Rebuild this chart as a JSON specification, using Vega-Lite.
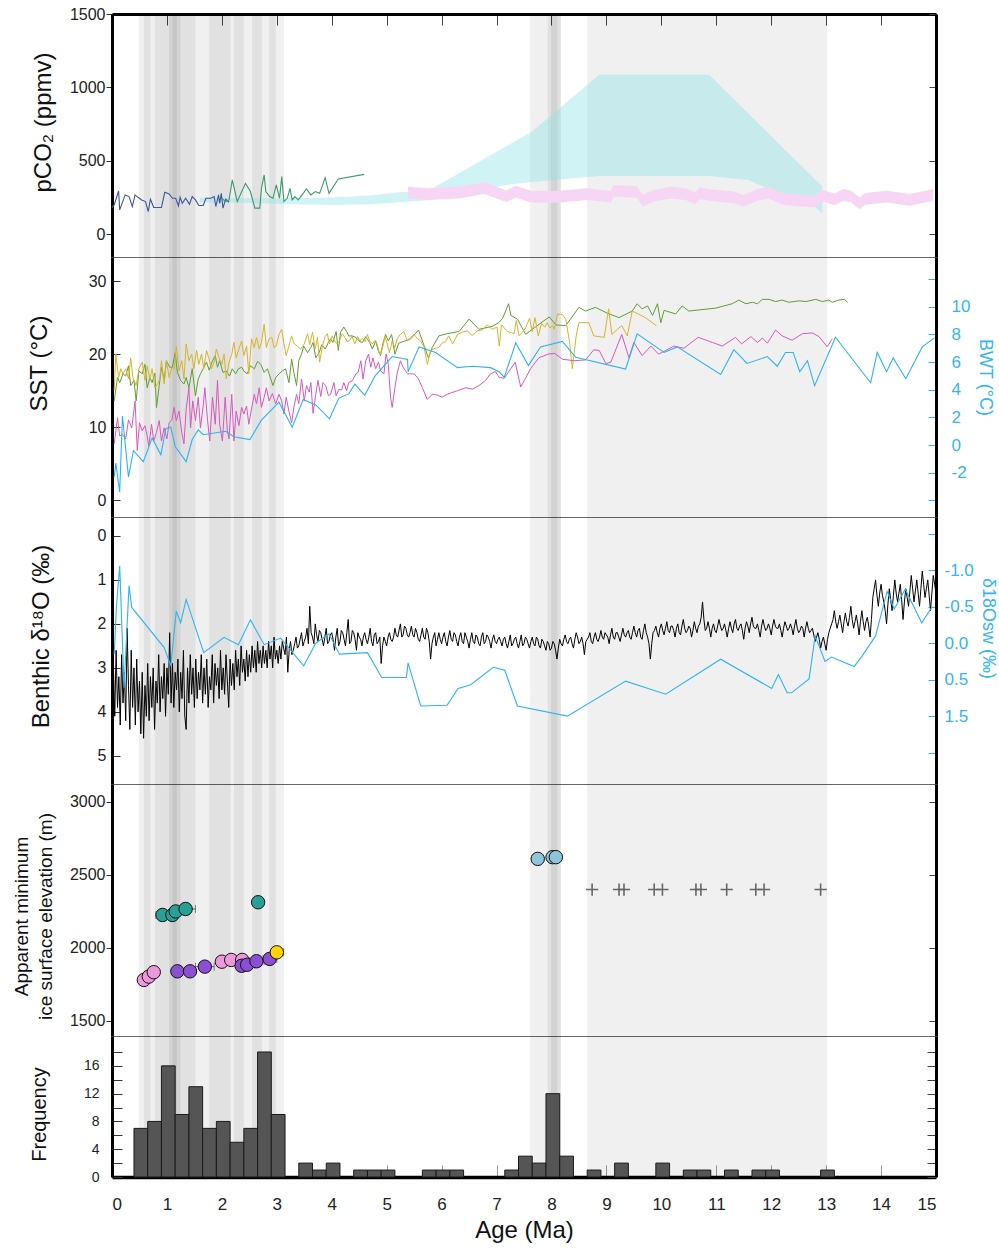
{
"$schema": "https://vega.github.io/schema/vega-lite/v6.json",
"padding": {"left": 11, "top": 5, "right": 5, "bottom": 0},
"background": "white",
"spacing": 0,
"bounds": "flush",
"resolve": {"scale": {"color": "independent", "fill": "independent"}},
"config": {
  "font": "Liberation Sans",
  "view": {"stroke": "#666", "strokeWidth": 1},
  "axis": {"labelFont": "Liberation Sans", "labelFontSize": 16, "labelColor": "#222", "titleFont": "Liberation Sans", "titleFontWeight": "normal", "titleColor": "#111", "grid": false, "domainColor": "#000", "domainWidth": 3, "tickColor": "#333", "tickWidth": 1}
},
"datasets": {
  "bands": [
    {"a":0.49,"e":3.13},{"a":0.58,"e":0.70},{"a":0.78,"e":1.52},{"a":1.04,"e":1.25},{"a":1.10,"e":1.18},
    {"a":1.77,"e":1.91},{"a":1.91,"e":2.16},{"a":2.22,"e":2.40},{"a":2.55,"e":2.73},{"a":2.86,"e":2.98},
    {"a":7.61,"e":8.17},{"a":7.93,"e":8.17},{"a":7.99,"e":8.11},{"a":8.65,"e":13.02}
  ],
  "co2": [
    {"a":0.0,"v":180,"s":"b"},{"a":0.04,"v":199,"s":"b"},{"a":0.12,"v":294,"s":"b"},{"a":0.14,"v":165,"s":"b"},{"a":0.24,"v":267,"s":"b"},{"a":0.31,"v":256,"s":"b"},{"a":0.37,"v":188,"s":"b"},{"a":0.42,"v":267,"s":"b"},{"a":0.48,"v":249,"s":"b"},{"a":0.54,"v":233,"s":"b"},{"a":0.61,"v":222,"s":"b"},{"a":0.66,"v":154,"s":"b"},{"a":0.70,"v":238,"s":"b"},{"a":0.76,"v":181,"s":"b"},{"a":0.90,"v":181,"s":"b"},{"a":0.96,"v":285,"s":"b"},{"a":1.04,"v":274,"s":"b"},{"a":1.10,"v":244,"s":"b"},{"a":1.16,"v":244,"s":"b"},{"a":1.21,"v":192,"s":"b"},{"a":1.24,"v":251,"s":"b"},{"a":1.28,"v":210,"s":"b"},{"a":1.34,"v":244,"s":"b"},{"a":1.41,"v":204,"s":"b"},{"a":1.46,"v":256,"s":"b"},{"a":1.52,"v":233,"s":"b"},{"a":1.58,"v":195,"s":"b"},{"a":1.66,"v":195,"s":"b"},{"a":1.71,"v":244,"s":"b"},{"a":1.80,"v":244,"s":"b"},{"a":1.86,"v":256,"s":"b"},{"a":1.89,"v":188,"s":"b"},{"a":1.94,"v":267,"s":"b"},{"a":1.96,"v":210,"s":"b"},{"a":1.99,"v":278,"s":"b"},{"a":2.02,"v":177,"s":"b"},{"a":2.07,"v":238,"s":"b"},{"a":2.13,"v":217,"s":"b"},
    {"a":2.00,"v":244,"s":"g"},{"a":2.07,"v":222,"s":"g"},{"a":2.13,"v":233,"s":"g"},{"a":2.19,"v":369,"s":"g"},{"a":2.28,"v":222,"s":"g"},{"a":2.43,"v":346,"s":"g"},{"a":2.52,"v":290,"s":"g"},{"a":2.60,"v":177,"s":"g"},{"a":2.69,"v":177,"s":"g"},{"a":2.72,"v":312,"s":"g"},{"a":2.77,"v":403,"s":"g"},{"a":2.80,"v":290,"s":"g"},{"a":2.87,"v":256,"s":"g"},{"a":2.93,"v":244,"s":"g"},{"a":2.99,"v":335,"s":"g"},{"a":3.05,"v":244,"s":"g"},{"a":3.09,"v":392,"s":"g"},{"a":3.13,"v":222,"s":"g"},{"a":3.19,"v":244,"s":"g"},{"a":3.24,"v":312,"s":"g"},{"a":3.28,"v":233,"s":"g"},{"a":3.33,"v":256,"s":"g"},{"a":3.39,"v":233,"s":"g"},{"a":3.46,"v":267,"s":"g"},{"a":3.54,"v":308,"s":"g"},{"a":3.62,"v":267,"s":"g"},{"a":3.70,"v":290,"s":"g"},{"a":3.78,"v":278,"s":"g"},{"a":3.88,"v":385,"s":"g"},{"a":3.95,"v":278,"s":"g"},{"a":4.12,"v":376,"s":"g"},{"a":4.59,"v":407,"s":"g"}
  ],
  "cyanA": [
    {"a":1.60,"lo":217,"hi":249},{"a":2.50,"lo":212,"hi":245},{"a":3.10,"lo":206,"hi":244},{"a":4.00,"lo":199,"hi":249},{"a":4.70,"lo":204,"hi":263},{"a":5.22,"lo":217,"hi":285},{"a":5.75,"lo":230,"hi":294},{"a":7.18,"lo":335,"hi":599},{"a":7.64,"lo":355,"hi":697},{"a":8.87,"lo":396,"hi":1086},{"a":10.87,"lo":396,"hi":1086},{"a":11.59,"lo":369,"hi":820},{"a":12.24,"lo":256,"hi":579},{"a":12.79,"lo":188,"hi":376},{"a":12.93,"lo":143,"hi":324}
  ],
  "magA": [
    {"a":5.39,"lo":243,"hi":323},{"a":5.75,"lo":232,"hi":312},{"a":6.34,"lo":245,"hi":325},{"a":6.78,"lo":274,"hi":354},{"a":7.18,"lo":218,"hi":298},{"a":7.35,"lo":250,"hi":330},{"a":7.64,"lo":213,"hi":293},{"a":8.16,"lo":215,"hi":295},{"a":8.65,"lo":232,"hi":312},{"a":9.08,"lo":213,"hi":293},{"a":9.13,"lo":254,"hi":334},{"a":9.56,"lo":247,"hi":327},{"a":9.66,"lo":189,"hi":269},{"a":9.86,"lo":223,"hi":303},{"a":10.18,"lo":243,"hi":323},{"a":10.44,"lo":232,"hi":312},{"a":10.61,"lo":204,"hi":284},{"a":10.70,"lo":238,"hi":318},{"a":10.97,"lo":223,"hi":303},{"a":11.33,"lo":211,"hi":291},{"a":11.49,"lo":186,"hi":266},{"a":11.75,"lo":227,"hi":307},{"a":11.95,"lo":243,"hi":323},{"a":12.21,"lo":200,"hi":280},{"a":12.53,"lo":189,"hi":269},{"a":12.79,"lo":182,"hi":262},{"a":12.93,"lo":223,"hi":303},{"a":13.15,"lo":197,"hi":277},{"a":13.32,"lo":227,"hi":307},{"a":13.45,"lo":215,"hi":295},{"a":13.61,"lo":170,"hi":250},{"a":13.71,"lo":200,"hi":280},{"a":14.10,"lo":215,"hi":295},{"a":14.52,"lo":193,"hi":273},{"a":14.95,"lo":227,"hi":307}
  ],
  "sst": [
    {"a":0.04,"t":13.6,"s":"g"},{"a":0.10,"t":16.8,"s":"g"},{"a":0.14,"t":16.1,"s":"g"},{"a":0.20,"t":17.3,"s":"g"},{"a":0.25,"t":17.0,"s":"g"},{"a":0.30,"t":18.4,"s":"g"},{"a":0.34,"t":15.7,"s":"g"},{"a":0.40,"t":16.4,"s":"g"},{"a":0.44,"t":13.6,"s":"g"},{"a":0.49,"t":17.7,"s":"g"},{"a":0.55,"t":17.3,"s":"g"},{"a":0.60,"t":18.6,"s":"g"},{"a":0.64,"t":15.4,"s":"g"},{"a":0.69,"t":16.8,"s":"g"},{"a":0.73,"t":16.1,"s":"g"},{"a":0.78,"t":17.4,"s":"g"},{"a":0.81,"t":12.7,"s":"g"},{"a":0.86,"t":15.7,"s":"g"},{"a":0.90,"t":18.2,"s":"g"},{"a":0.95,"t":16.4,"s":"g"},{"a":0.99,"t":19.1,"s":"g"},{"a":1.05,"t":18.2,"s":"g"},{"a":1.10,"t":18.2,"s":"g"},{"a":1.15,"t":20.2,"s":"g"},{"a":1.19,"t":17.5,"s":"g"},{"a":1.25,"t":16.4,"s":"g"},{"a":1.31,"t":15.9,"s":"g"},{"a":1.35,"t":16.8,"s":"g"},{"a":1.40,"t":15.4,"s":"g"},{"a":1.46,"t":18.0,"s":"g"},{"a":1.52,"t":14.3,"s":"g"},{"a":1.57,"t":16.6,"s":"g"},{"a":1.61,"t":17.3,"s":"g"},{"a":1.66,"t":18.0,"s":"g"},{"a":1.72,"t":18.9,"s":"g"},{"a":1.77,"t":17.8,"s":"g"},{"a":1.83,"t":19.1,"s":"g"},{"a":1.88,"t":19.8,"s":"g"},{"a":1.92,"t":18.2,"s":"g"},{"a":1.96,"t":19.1,"s":"g"},{"a":2.02,"t":17.5,"s":"g"},{"a":2.08,"t":17.7,"s":"g"},{"a":2.14,"t":17.0,"s":"g"},{"a":2.19,"t":18.0,"s":"g"},{"a":2.25,"t":17.3,"s":"g"},{"a":2.30,"t":18.0,"s":"g"},{"a":2.36,"t":18.2,"s":"g"},{"a":2.40,"t":17.7,"s":"g"},{"a":2.46,"t":17.3,"s":"g"},{"a":2.52,"t":18.4,"s":"g"},{"a":2.59,"t":18.0,"s":"g"},{"a":2.65,"t":19.0,"s":"g"},{"a":2.71,"t":18.6,"s":"g"},{"a":2.77,"t":17.5,"s":"g"},{"a":2.83,"t":18.0,"s":"g"},{"a":2.89,"t":16.6,"s":"g"},{"a":2.93,"t":15.7,"s":"g"},{"a":2.98,"t":16.8,"s":"g"},{"a":3.04,"t":17.3,"s":"g"},{"a":3.10,"t":17.7,"s":"g"},{"a":3.16,"t":18.0,"s":"g"},{"a":3.22,"t":16.1,"s":"g"},{"a":3.27,"t":19.3,"s":"g"},{"a":3.31,"t":17.5,"s":"g"},{"a":3.36,"t":15.7,"s":"g"},{"a":3.40,"t":19.1,"s":"g"},{"a":3.45,"t":20.0,"s":"g"},{"a":3.49,"t":21.1,"s":"g"},{"a":3.56,"t":20.2,"s":"g"},{"a":3.62,"t":20.9,"s":"g"},{"a":3.66,"t":21.6,"s":"g"},{"a":3.71,"t":19.5,"s":"g"},{"a":3.77,"t":20.2,"s":"g"},{"a":3.82,"t":21.3,"s":"g"},{"a":3.88,"t":20.7,"s":"g"},{"a":3.94,"t":21.6,"s":"g"},{"a":3.98,"t":22.1,"s":"g"},{"a":4.02,"t":21.6,"s":"g"},{"a":4.08,"t":23.1,"s":"g"},{"a":4.12,"t":20.5,"s":"g"},{"a":4.16,"t":23.0,"s":"g"},{"a":4.22,"t":23.7,"s":"g"},{"a":4.27,"t":23.1,"s":"g"},{"a":4.31,"t":22.5,"s":"g"},{"a":4.37,"t":22.5,"s":"g"},{"a":4.44,"t":22.3,"s":"g"},{"a":4.51,"t":21.7,"s":"g"},{"a":4.56,"t":21.6,"s":"g"},{"a":4.62,"t":22.4,"s":"g"},{"a":4.69,"t":21.6,"s":"g"},{"a":4.74,"t":20.7,"s":"g"},{"a":4.80,"t":21.8,"s":"g"},{"a":4.85,"t":20.4,"s":"g"},{"a":4.89,"t":19.8,"s":"g"},{"a":4.93,"t":21.4,"s":"g"},{"a":4.98,"t":22.7,"s":"g"},{"a":5.03,"t":21.8,"s":"g"},{"a":5.09,"t":22.7,"s":"g"},{"a":5.15,"t":20.0,"s":"g"},{"a":5.22,"t":21.5,"s":"g"},{"a":5.33,"t":21.8,"s":"g"},{"a":5.44,"t":22.1,"s":"g"},{"a":5.58,"t":23.3,"s":"g"},{"a":5.66,"t":21.6,"s":"g"},{"a":5.76,"t":19.5,"s":"g"},{"a":5.83,"t":20.9,"s":"g"},{"a":5.95,"t":22.5,"s":"g"},{"a":6.10,"t":22.8,"s":"g"},{"a":6.32,"t":23.1,"s":"g"},{"a":6.50,"t":24.8,"s":"g"},{"a":6.68,"t":23.4,"s":"g"},{"a":6.92,"t":23.8,"s":"g"},{"a":7.04,"t":24.3,"s":"g"},{"a":7.11,"t":24.9,"s":"g"},{"a":7.22,"t":26.9,"s":"g"},{"a":7.26,"t":25.3,"s":"g"},{"a":7.38,"t":24.8,"s":"g"},{"a":7.53,"t":22.7,"s":"g"},{"a":7.65,"t":23.4,"s":"g"},{"a":7.96,"t":25.1,"s":"g"},{"a":8.08,"t":24.0,"s":"g"},{"a":8.26,"t":23.9,"s":"g"},{"a":8.50,"t":26.4,"s":"g"},{"a":8.62,"t":25.9,"s":"g"},{"a":8.80,"t":26.4,"s":"g"},{"a":9.02,"t":25.6,"s":"g"},{"a":9.23,"t":25.0,"s":"g"},{"a":9.47,"t":25.9,"s":"g"},{"a":9.56,"t":26.9,"s":"g"},{"a":9.65,"t":26.2,"s":"g"},{"a":9.75,"t":26.6,"s":"g"},{"a":9.84,"t":25.3,"s":"g"},{"a":9.93,"t":26.9,"s":"g"},{"a":9.99,"t":24.3,"s":"g"},{"a":10.05,"t":26.0,"s":"g"},{"a":10.26,"t":25.5,"s":"g"},{"a":10.38,"t":26.6,"s":"g"},{"a":10.50,"t":25.9,"s":"g"},{"a":10.99,"t":26.3,"s":"g"},{"a":11.29,"t":26.9,"s":"g"},{"a":11.41,"t":27.4,"s":"g"},{"a":11.54,"t":26.9,"s":"g"},{"a":11.66,"t":27.1,"s":"g"},{"a":11.75,"t":26.9,"s":"g"},{"a":11.84,"t":27.5,"s":"g"},{"a":11.96,"t":27.5,"s":"g"},{"a":12.08,"t":27.2,"s":"g"},{"a":12.20,"t":27.4,"s":"g"},{"a":12.32,"t":27.1,"s":"g"},{"a":12.51,"t":27.3,"s":"g"},{"a":12.63,"t":27.2,"s":"g"},{"a":12.81,"t":27.5,"s":"g"},{"a":12.93,"t":27.2,"s":"g"},{"a":13.05,"t":27.4,"s":"g"},{"a":13.11,"t":27.1,"s":"g"},{"a":13.23,"t":27.4,"s":"g"},{"a":13.33,"t":27.5,"s":"g"},{"a":13.39,"t":27.1,"s":"g"},
    {"a":0.04,"t":15.0,"s":"y"},{"a":0.07,"t":20.0,"s":"y"},{"a":0.12,"t":16.8,"s":"y"},{"a":0.16,"t":18.0,"s":"y"},{"a":0.20,"t":17.3,"s":"y"},{"a":0.25,"t":18.0,"s":"y"},{"a":0.30,"t":16.6,"s":"y"},{"a":0.34,"t":19.5,"s":"y"},{"a":0.38,"t":16.8,"s":"y"},{"a":0.44,"t":15.7,"s":"y"},{"a":0.49,"t":18.0,"s":"y"},{"a":0.55,"t":18.9,"s":"y"},{"a":0.60,"t":16.4,"s":"y"},{"a":0.64,"t":18.4,"s":"y"},{"a":0.69,"t":16.6,"s":"y"},{"a":0.73,"t":18.0,"s":"y"},{"a":0.78,"t":15.4,"s":"y"},{"a":0.83,"t":15.9,"s":"y"},{"a":0.87,"t":16.6,"s":"y"},{"a":0.90,"t":19.1,"s":"y"},{"a":0.95,"t":15.9,"s":"y"},{"a":0.99,"t":19.1,"s":"y"},{"a":1.04,"t":16.8,"s":"y"},{"a":1.09,"t":18.2,"s":"y"},{"a":1.13,"t":18.0,"s":"y"},{"a":1.17,"t":21.1,"s":"y"},{"a":1.22,"t":17.7,"s":"y"},{"a":1.27,"t":19.1,"s":"y"},{"a":1.31,"t":16.6,"s":"y"},{"a":1.35,"t":21.4,"s":"y"},{"a":1.40,"t":19.1,"s":"y"},{"a":1.45,"t":20.0,"s":"y"},{"a":1.49,"t":18.0,"s":"y"},{"a":1.54,"t":20.5,"s":"y"},{"a":1.58,"t":18.6,"s":"y"},{"a":1.63,"t":20.0,"s":"y"},{"a":1.67,"t":18.0,"s":"y"},{"a":1.72,"t":20.5,"s":"y"},{"a":1.77,"t":19.3,"s":"y"},{"a":1.81,"t":18.0,"s":"y"},{"a":1.86,"t":18.9,"s":"y"},{"a":1.90,"t":20.7,"s":"y"},{"a":1.95,"t":19.5,"s":"y"},{"a":2.00,"t":18.6,"s":"y"},{"a":2.04,"t":20.0,"s":"y"},{"a":2.08,"t":16.6,"s":"y"},{"a":2.13,"t":18.9,"s":"y"},{"a":2.18,"t":20.0,"s":"y"},{"a":2.22,"t":21.6,"s":"y"},{"a":2.26,"t":19.5,"s":"y"},{"a":2.31,"t":20.7,"s":"y"},{"a":2.36,"t":21.8,"s":"y"},{"a":2.40,"t":19.8,"s":"y"},{"a":2.45,"t":21.1,"s":"y"},{"a":2.49,"t":17.3,"s":"y"},{"a":2.54,"t":22.1,"s":"y"},{"a":2.59,"t":20.9,"s":"y"},{"a":2.63,"t":22.3,"s":"y"},{"a":2.68,"t":20.7,"s":"y"},{"a":2.72,"t":21.6,"s":"y"},{"a":2.77,"t":24.1,"s":"y"},{"a":2.81,"t":20.9,"s":"y"},{"a":2.86,"t":22.1,"s":"y"},{"a":2.91,"t":22.3,"s":"y"},{"a":2.95,"t":20.9,"s":"y"},{"a":2.99,"t":21.1,"s":"y"},{"a":3.04,"t":22.7,"s":"y"},{"a":3.09,"t":23.4,"s":"y"},{"a":3.13,"t":21.4,"s":"y"},{"a":3.17,"t":19.8,"s":"y"},{"a":3.22,"t":21.1,"s":"y"},{"a":3.27,"t":22.5,"s":"y"},{"a":3.31,"t":21.5,"s":"y"},{"a":3.37,"t":21.1,"s":"y"},{"a":3.43,"t":20.7,"s":"y"},{"a":3.50,"t":21.4,"s":"y"},{"a":3.56,"t":22.8,"s":"y"},{"a":3.60,"t":21.3,"s":"y"},{"a":3.65,"t":23.0,"s":"y"},{"a":3.70,"t":20.7,"s":"y"},{"a":3.74,"t":22.3,"s":"y"},{"a":3.78,"t":18.9,"s":"y"},{"a":3.83,"t":21.1,"s":"y"},{"a":3.88,"t":22.4,"s":"y"},{"a":3.92,"t":22.8,"s":"y"},{"a":3.96,"t":21.4,"s":"y"},{"a":4.01,"t":22.5,"s":"y"},{"a":4.06,"t":21.7,"s":"y"},{"a":4.10,"t":21.4,"s":"y"},{"a":4.14,"t":21.8,"s":"y"},{"a":4.19,"t":22.8,"s":"y"},{"a":4.24,"t":22.3,"s":"y"},{"a":4.28,"t":21.7,"s":"y"},{"a":4.33,"t":21.9,"s":"y"},{"a":4.37,"t":22.4,"s":"y"},{"a":4.42,"t":21.4,"s":"y"},{"a":4.47,"t":22.4,"s":"y"},{"a":4.51,"t":21.8,"s":"y"},{"a":4.56,"t":22.2,"s":"y"},{"a":4.61,"t":21.7,"s":"y"},{"a":4.65,"t":22.7,"s":"y"},{"a":4.69,"t":21.8,"s":"y"},{"a":4.74,"t":21.4,"s":"y"},{"a":4.79,"t":21.9,"s":"y"},{"a":4.83,"t":21.3,"s":"y"},{"a":4.87,"t":20.0,"s":"y"},{"a":4.92,"t":20.7,"s":"y"},{"a":4.97,"t":22.4,"s":"y"},{"a":5.01,"t":21.4,"s":"y"},{"a":5.05,"t":20.2,"s":"y"},{"a":5.10,"t":21.8,"s":"y"},{"a":5.15,"t":20.9,"s":"y"},{"a":5.19,"t":22.1,"s":"y"},{"a":5.25,"t":22.7,"s":"y"},{"a":5.31,"t":23.1,"s":"y"},{"a":5.38,"t":21.8,"s":"y"},{"a":5.44,"t":22.3,"s":"y"},{"a":5.50,"t":22.7,"s":"y"},{"a":5.56,"t":22.1,"s":"y"},{"a":5.62,"t":21.8,"s":"y"},{"a":5.68,"t":21.0,"s":"y"},{"a":5.74,"t":18.6,"s":"y"},{"a":5.80,"t":20.5,"s":"y"},{"a":5.88,"t":20.8,"s":"y"},{"a":5.95,"t":20.9,"s":"y"},{"a":6.01,"t":21.5,"s":"y"},{"a":6.07,"t":21.7,"s":"y"},{"a":6.13,"t":22.5,"s":"y"},{"a":6.20,"t":21.4,"s":"y"},{"a":6.29,"t":22.7,"s":"y"},{"a":6.38,"t":23.0,"s":"y"},{"a":6.47,"t":23.2,"s":"y"},{"a":6.56,"t":22.5,"s":"y"},{"a":6.65,"t":23.2,"s":"y"},{"a":6.74,"t":23.3,"s":"y"},{"a":6.83,"t":24.0,"s":"y"},{"a":6.92,"t":23.4,"s":"y"},{"a":7.01,"t":23.7,"s":"y"},{"a":7.05,"t":21.1,"s":"y"},{"a":7.09,"t":24.0,"s":"y"},{"a":7.20,"t":23.1,"s":"y"},{"a":7.32,"t":22.8,"s":"y"},{"a":7.36,"t":24.6,"s":"y"},{"a":7.41,"t":22.5,"s":"y"},{"a":7.47,"t":23.0,"s":"y"},{"a":7.53,"t":23.6,"s":"y"},{"a":7.60,"t":24.9,"s":"y"},{"a":7.65,"t":23.1,"s":"y"},{"a":7.70,"t":25.0,"s":"y"},{"a":7.76,"t":22.5,"s":"y"},{"a":7.82,"t":24.2,"s":"y"},{"a":7.88,"t":23.7,"s":"y"},{"a":7.92,"t":24.3,"s":"y"},{"a":7.97,"t":23.6,"s":"y"},{"a":8.02,"t":23.9,"s":"y"},{"a":8.05,"t":23.4,"s":"y"},{"a":8.11,"t":25.5,"s":"y"},{"a":8.20,"t":25.4,"s":"y"},{"a":8.26,"t":24.8,"s":"y"},{"a":8.33,"t":21.6,"s":"y"},{"a":8.38,"t":18.0,"s":"y"},{"a":8.45,"t":22.5,"s":"y"},{"a":8.50,"t":24.3,"s":"y"},{"a":8.68,"t":24.3,"s":"y"},{"a":8.77,"t":22.5,"s":"y"},{"a":8.96,"t":22.3,"s":"y"},{"a":9.04,"t":26.2,"s":"y"},{"a":9.10,"t":22.7,"s":"y"},{"a":9.20,"t":23.4,"s":"y"},{"a":9.28,"t":23.9,"s":"y"},{"a":9.38,"t":22.5,"s":"y"},{"a":9.47,"t":25.9,"s":"y"},{"a":9.71,"t":25.0,"s":"y"},{"a":9.91,"t":23.9,"s":"y"},
    {"a":0.04,"t":7.7,"s":"m"},{"a":0.10,"t":11.3,"s":"m"},{"a":0.14,"t":8.8,"s":"m"},{"a":0.19,"t":9.0,"s":"m"},{"a":0.25,"t":8.4,"s":"m"},{"a":0.30,"t":11.0,"s":"m"},{"a":0.36,"t":9.9,"s":"m"},{"a":0.42,"t":13.6,"s":"m"},{"a":0.46,"t":6.8,"s":"m"},{"a":0.50,"t":10.6,"s":"m"},{"a":0.55,"t":9.5,"s":"m"},{"a":0.60,"t":10.2,"s":"m"},{"a":0.64,"t":8.8,"s":"m"},{"a":0.67,"t":7.4,"s":"m"},{"a":0.72,"t":10.4,"s":"m"},{"a":0.76,"t":8.1,"s":"m"},{"a":0.81,"t":9.3,"s":"m"},{"a":0.86,"t":10.9,"s":"m"},{"a":0.90,"t":8.1,"s":"m"},{"a":0.95,"t":9.9,"s":"m"},{"a":1.00,"t":8.4,"s":"m"},{"a":1.04,"t":10.6,"s":"m"},{"a":1.09,"t":11.0,"s":"m"},{"a":1.13,"t":12.7,"s":"m"},{"a":1.17,"t":10.9,"s":"m"},{"a":1.22,"t":12.2,"s":"m"},{"a":1.27,"t":9.3,"s":"m"},{"a":1.31,"t":7.7,"s":"m"},{"a":1.35,"t":12.5,"s":"m"},{"a":1.40,"t":15.4,"s":"m"},{"a":1.43,"t":9.9,"s":"m"},{"a":1.47,"t":13.6,"s":"m"},{"a":1.52,"t":10.9,"s":"m"},{"a":1.57,"t":14.1,"s":"m"},{"a":1.61,"t":9.9,"s":"m"},{"a":1.66,"t":12.9,"s":"m"},{"a":1.69,"t":15.4,"s":"m"},{"a":1.74,"t":10.9,"s":"m"},{"a":1.78,"t":8.1,"s":"m"},{"a":1.83,"t":14.1,"s":"m"},{"a":1.88,"t":10.4,"s":"m"},{"a":1.92,"t":16.4,"s":"m"},{"a":1.96,"t":10.4,"s":"m"},{"a":2.01,"t":8.1,"s":"m"},{"a":2.06,"t":14.1,"s":"m"},{"a":2.10,"t":9.5,"s":"m"},{"a":2.13,"t":8.4,"s":"m"},{"a":2.18,"t":14.5,"s":"m"},{"a":2.22,"t":8.1,"s":"m"},{"a":2.26,"t":12.2,"s":"m"},{"a":2.31,"t":10.2,"s":"m"},{"a":2.36,"t":12.7,"s":"m"},{"a":2.40,"t":11.8,"s":"m"},{"a":2.45,"t":12.9,"s":"m"},{"a":2.49,"t":10.4,"s":"m"},{"a":2.54,"t":12.5,"s":"m"},{"a":2.59,"t":14.5,"s":"m"},{"a":2.63,"t":13.2,"s":"m"},{"a":2.68,"t":15.4,"s":"m"},{"a":2.72,"t":12.7,"s":"m"},{"a":2.77,"t":14.1,"s":"m"},{"a":2.81,"t":15.4,"s":"m"},{"a":2.86,"t":13.6,"s":"m"},{"a":2.92,"t":14.6,"s":"m"},{"a":2.98,"t":13.2,"s":"m"},{"a":3.04,"t":14.5,"s":"m"},{"a":3.09,"t":13.6,"s":"m"},{"a":3.13,"t":11.8,"s":"m"},{"a":3.17,"t":14.1,"s":"m"},{"a":3.22,"t":12.2,"s":"m"},{"a":3.27,"t":10.6,"s":"m"},{"a":3.31,"t":12.7,"s":"m"},{"a":3.36,"t":14.5,"s":"m"},{"a":3.40,"t":13.2,"s":"m"},{"a":3.45,"t":16.6,"s":"m"},{"a":3.50,"t":13.6,"s":"m"},{"a":3.54,"t":15.7,"s":"m"},{"a":3.59,"t":14.8,"s":"m"},{"a":3.62,"t":16.1,"s":"m"},{"a":3.66,"t":11.9,"s":"m"},{"a":3.71,"t":14.5,"s":"m"},{"a":3.75,"t":16.4,"s":"m"},{"a":3.80,"t":14.2,"s":"m"},{"a":3.84,"t":16.1,"s":"m"},{"a":3.89,"t":15.7,"s":"m"},{"a":3.94,"t":14.3,"s":"m"},{"a":3.98,"t":14.5,"s":"m"},{"a":4.04,"t":16.1,"s":"m"},{"a":4.08,"t":14.3,"s":"m"},{"a":4.13,"t":15.2,"s":"m"},{"a":4.18,"t":15.1,"s":"m"},{"a":4.22,"t":16.1,"s":"m"},{"a":4.27,"t":15.0,"s":"m"},{"a":4.31,"t":16.1,"s":"m"},{"a":4.38,"t":16.4,"s":"m"},{"a":4.44,"t":17.3,"s":"m"},{"a":4.48,"t":17.5,"s":"m"},{"a":4.53,"t":19.1,"s":"m"},{"a":4.57,"t":16.6,"s":"m"},{"a":4.62,"t":19.1,"s":"m"},{"a":4.67,"t":20.0,"s":"m"},{"a":4.71,"t":18.2,"s":"m"},{"a":4.75,"t":19.5,"s":"m"},{"a":4.80,"t":18.0,"s":"m"},{"a":4.85,"t":18.9,"s":"m"},{"a":4.89,"t":17.7,"s":"m"},{"a":4.95,"t":17.3,"s":"m"},{"a":4.99,"t":20.0,"s":"m"},{"a":5.03,"t":18.6,"s":"m"},{"a":5.07,"t":14.1,"s":"m"},{"a":5.10,"t":12.7,"s":"m"},{"a":5.15,"t":15.4,"s":"m"},{"a":5.19,"t":17.3,"s":"m"},{"a":5.25,"t":19.1,"s":"m"},{"a":5.30,"t":18.2,"s":"m"},{"a":5.38,"t":17.3,"s":"m"},{"a":5.44,"t":17.3,"s":"m"},{"a":5.50,"t":17.3,"s":"m"},{"a":5.58,"t":16.6,"s":"m"},{"a":5.65,"t":15.4,"s":"m"},{"a":5.74,"t":13.8,"s":"m"},{"a":5.83,"t":14.5,"s":"m"},{"a":5.92,"t":14.4,"s":"m"},{"a":6.01,"t":14.1,"s":"m"},{"a":6.10,"t":14.5,"s":"m"},{"a":6.29,"t":15.0,"s":"m"},{"a":6.44,"t":15.4,"s":"m"},{"a":6.56,"t":15.2,"s":"m"},{"a":6.68,"t":15.7,"s":"m"},{"a":6.80,"t":16.4,"s":"m"},{"a":6.89,"t":17.3,"s":"m"},{"a":6.98,"t":17.6,"s":"m"},{"a":7.05,"t":16.8,"s":"m"},{"a":7.14,"t":16.7,"s":"m"},{"a":7.34,"t":18.9,"s":"m"},{"a":7.44,"t":15.5,"s":"m"},{"a":7.62,"t":18.0,"s":"m"},{"a":7.77,"t":19.5,"s":"m"},{"a":7.94,"t":20.0,"s":"m"},{"a":8.06,"t":20.1,"s":"m"},{"a":8.20,"t":19.3,"s":"m"},{"a":8.41,"t":19.1,"s":"m"},{"a":8.62,"t":19.2,"s":"m"},{"a":8.77,"t":20.6,"s":"m"},{"a":8.87,"t":20.5,"s":"m"},{"a":8.99,"t":18.7,"s":"m"},{"a":9.08,"t":18.9,"s":"m"},{"a":9.28,"t":22.7,"s":"m"},{"a":9.41,"t":19.5,"s":"m"},{"a":9.50,"t":21.6,"s":"m"},{"a":9.65,"t":19.8,"s":"m"},{"a":9.81,"t":21.1,"s":"m"},{"a":9.95,"t":20.0,"s":"m"},{"a":10.08,"t":20.5,"s":"m"},{"a":10.23,"t":21.1,"s":"m"},{"a":10.41,"t":20.8,"s":"m"},{"a":10.67,"t":22.3,"s":"m"},{"a":10.93,"t":21.6,"s":"m"},{"a":11.11,"t":21.1,"s":"m"},{"a":11.35,"t":22.3,"s":"m"},{"a":11.46,"t":21.4,"s":"m"},{"a":11.63,"t":22.4,"s":"m"},{"a":11.75,"t":21.6,"s":"m"},{"a":11.84,"t":22.2,"s":"m"},{"a":11.93,"t":21.5,"s":"m"},{"a":12.08,"t":23.3,"s":"m"},{"a":12.20,"t":22.5,"s":"m"},{"a":12.38,"t":21.9,"s":"m"},{"a":12.57,"t":22.8,"s":"m"},{"a":12.75,"t":22.9,"s":"m"},{"a":12.87,"t":22.4,"s":"m"},{"a":13.02,"t":21.0,"s":"m"},{"a":13.11,"t":22.1,"s":"m"}
  ],
  "bwt": [
    {"a":0.04,"b":-2.3},{"a":0.07,"b":-1.3},{"a":0.14,"b":-3.4},{"a":0.19,"b":2.1},{"a":0.30,"b":-2.3},{"a":0.39,"b":-0.4},{"a":0.57,"b":-1.2},{"a":0.73,"b":0.5},{"a":0.89,"b":-0.7},{"a":0.98,"b":1.2},{"a":1.07,"b":1.3},{"a":1.15,"b":-0.1},{"a":1.35,"b":-1.2},{"a":1.46,"b":0.4},{"a":1.57,"b":1.1},{"a":1.66,"b":0.75},{"a":2.07,"b":1.0},{"a":2.22,"b":0.6},{"a":2.51,"b":0.4},{"a":2.72,"b":1.8},{"a":3.04,"b":3.1},{"a":3.28,"b":1.3},{"a":3.48,"b":3.3},{"a":3.71,"b":2.9},{"a":3.96,"b":1.9},{"a":4.13,"b":3.4},{"a":4.31,"b":3.7},{"a":4.42,"b":4.4},{"a":4.60,"b":3.6},{"a":4.79,"b":5.0},{"a":5.10,"b":6.4},{"a":5.38,"b":6.2},{"a":5.39,"b":5.3},{"a":5.59,"b":7.1},{"a":5.89,"b":6.7},{"a":6.29,"b":5.6},{"a":6.56,"b":5.7},{"a":6.89,"b":5.6},{"a":7.05,"b":5.3},{"a":7.14,"b":4.9},{"a":7.35,"b":7.4},{"a":7.58,"b":5.75},{"a":7.80,"b":7.1},{"a":8.20,"b":7.5},{"a":8.44,"b":6.35},{"a":9.35,"b":5.5},{"a":9.56,"b":8.05},{"a":10.05,"b":6.7},{"a":10.29,"b":7.1},{"a":11.08,"b":5.1},{"a":11.32,"b":6.9},{"a":11.56,"b":5.9},{"a":11.93,"b":6.4},{"a":12.11,"b":5.7},{"a":12.26,"b":6.7},{"a":12.40,"b":6.7},{"a":12.52,"b":5.3},{"a":12.66,"b":6.1},{"a":12.79,"b":4.3},{"a":13.17,"b":7.8},{"a":13.81,"b":4.5},{"a":13.93,"b":6.7},{"a":14.10,"b":5.3},{"a":14.22,"b":6.3},{"a":14.45,"b":4.8},{"a":14.75,"b":7.1},{"a":14.97,"b":7.75}
  ],
  "d18o": [
    {"a":0,"d":3.6},{"a":0.025,"d":2.9},{"a":0.05,"d":4.1},{"a":0.075,"d":2.6},{"a":0.1,"d":3.9},{"a":0.125,"d":3.2},{"a":0.15,"d":4.3},{"a":0.175,"d":2.7},{"a":0.2,"d":3.8},{"a":0.225,"d":3.1},{"a":0.25,"d":4.2},{"a":0.275,"d":2.1},{"a":0.3,"d":3.4},{"a":0.325,"d":4.4},{"a":0.35,"d":2.6},{"a":0.375,"d":3.9},{"a":0.4,"d":3.0},{"a":0.425,"d":4.3},{"a":0.45,"d":2.8},{"a":0.475,"d":4.0},{"a":0.5,"d":3.3},{"a":0.525,"d":4.5},{"a":0.55,"d":3.1},{"a":0.575,"d":4.6},{"a":0.6,"d":3.4},{"a":0.625,"d":4.1},{"a":0.65,"d":2.9},{"a":0.675,"d":4.2},{"a":0.7,"d":3.2},{"a":0.725,"d":3.9},{"a":0.75,"d":3.0},{"a":0.775,"d":4.4},{"a":0.8,"d":3.3},{"a":0.825,"d":3.8},{"a":0.85,"d":2.7},{"a":0.875,"d":4.0},{"a":0.9,"d":3.2},{"a":0.925,"d":3.7},{"a":0.95,"d":2.9},{"a":0.975,"d":4.1},
    {"a":1.0,"d":3.0},{"a":1.025,"d":3.6},{"a":1.05,"d":2.2},{"a":1.075,"d":3.8},{"a":1.1,"d":2.9},{"a":1.125,"d":3.9},{"a":1.15,"d":3.1},{"a":1.175,"d":3.5},{"a":1.2,"d":2.8},{"a":1.225,"d":4.0},{"a":1.25,"d":3.1},{"a":1.275,"d":3.7},{"a":1.3,"d":2.6},{"a":1.325,"d":4.1},{"a":1.35,"d":4.4},{"a":1.375,"d":3.0},{"a":1.4,"d":3.8},{"a":1.425,"d":2.7},{"a":1.45,"d":3.6},{"a":1.475,"d":3.0},{"a":1.5,"d":3.9},{"a":1.525,"d":2.8},{"a":1.55,"d":3.7},{"a":1.575,"d":3.1},{"a":1.6,"d":3.5},{"a":1.625,"d":2.7},{"a":1.65,"d":3.8},{"a":1.675,"d":3.0},{"a":1.7,"d":3.6},{"a":1.725,"d":2.8},{"a":1.75,"d":3.9},{"a":1.775,"d":3.2},{"a":1.8,"d":3.5},{"a":1.825,"d":2.7},{"a":1.85,"d":3.8},{"a":1.875,"d":2.9},{"a":1.9,"d":3.4},{"a":1.925,"d":3.0},{"a":1.95,"d":3.7},{"a":1.975,"d":2.6},
    {"a":2.0,"d":3.5},{"a":2.025,"d":3.0},{"a":2.05,"d":3.6},{"a":2.075,"d":2.7},{"a":2.1,"d":3.3},{"a":2.125,"d":3.9},{"a":2.15,"d":2.8},{"a":2.175,"d":3.4},{"a":2.2,"d":2.9},{"a":2.225,"d":3.5},{"a":2.25,"d":2.6},{"a":2.275,"d":3.2},{"a":2.3,"d":2.8},{"a":2.325,"d":3.4},{"a":2.35,"d":2.5},{"a":2.375,"d":3.1},{"a":2.4,"d":2.8},{"a":2.425,"d":3.3},{"a":2.45,"d":2.6},{"a":2.475,"d":3.2},{"a":2.5,"d":2.7},{"a":2.525,"d":3.1},{"a":2.55,"d":2.5},{"a":2.575,"d":3.0},{"a":2.6,"d":2.6},{"a":2.625,"d":3.1},{"a":2.65,"d":2.4},{"a":2.675,"d":2.9},{"a":2.7,"d":2.6},{"a":2.725,"d":3.0},{"a":2.75,"d":2.5},{"a":2.775,"d":2.9},{"a":2.8,"d":2.6},{"a":2.825,"d":3.0},{"a":2.85,"d":2.4},{"a":2.875,"d":2.8},{"a":2.9,"d":2.5},{"a":2.925,"d":3.0},{"a":2.95,"d":2.3},{"a":2.975,"d":2.8},
    {"a":3.0,"d":2.6},{"a":3.025,"d":2.9},{"a":3.05,"d":2.5},{"a":3.075,"d":2.8},{"a":3.1,"d":2.4},{"a":3.15,"d":2.7},{"a":3.2,"d":3.1},{"a":3.25,"d":2.4},{"a":3.3,"d":2.6},{"a":3.35,"d":2.3},{"a":3.4,"d":2.5},{"a":3.45,"d":2.2},{"a":3.5,"d":2.4},{"a":3.55,"d":2.1},{"a":3.6,"d":1.6},{"a":3.65,"d":2.3},{"a":3.7,"d":2.0},{"a":3.75,"d":2.4},{"a":3.8,"d":2.2},{"a":3.85,"d":2.5},{"a":3.9,"d":2.1},{"a":3.95,"d":2.4},
    {"a":4.0,"d":2.2},{"a":4.05,"d":2.6},{"a":4.1,"d":2.1},{"a":4.15,"d":2.4},{"a":4.2,"d":2.2},{"a":4.25,"d":2.5},{"a":4.3,"d":1.9},{"a":4.35,"d":2.4},{"a":4.4,"d":2.2},{"a":4.45,"d":2.6},{"a":4.5,"d":2.3},{"a":4.55,"d":2.5},{"a":4.6,"d":2.2},{"a":4.65,"d":2.45},{"a":4.7,"d":2.1},{"a":4.75,"d":2.5},{"a":4.8,"d":2.2},{"a":4.85,"d":2.4},{"a":4.9,"d":2.9},{"a":4.95,"d":2.3},
    {"a":5.0,"d":2.5},{"a":5.05,"d":2.2},{"a":5.1,"d":2.4},{"a":5.15,"d":2.1},{"a":5.2,"d":2.3},{"a":5.25,"d":2.0},{"a":5.3,"d":2.25},{"a":5.35,"d":2.1},{"a":5.4,"d":2.3},{"a":5.45,"d":2.05},{"a":5.5,"d":2.3},{"a":5.55,"d":2.2},{"a":5.6,"d":2.4},{"a":5.65,"d":2.1},{"a":5.7,"d":2.35},{"a":5.75,"d":2.2},{"a":5.8,"d":2.8},{"a":5.85,"d":2.3},{"a":5.9,"d":2.5},{"a":5.95,"d":2.2},
    {"a":6.0,"d":2.45},{"a":6.05,"d":2.2},{"a":6.1,"d":2.5},{"a":6.15,"d":2.15},{"a":6.2,"d":2.4},{"a":6.25,"d":2.25},{"a":6.3,"d":2.5},{"a":6.35,"d":2.2},{"a":6.4,"d":2.45},{"a":6.45,"d":2.3},{"a":6.5,"d":2.55},{"a":6.55,"d":2.2},{"a":6.6,"d":2.45},{"a":6.65,"d":2.3},{"a":6.7,"d":2.5},{"a":6.75,"d":2.2},{"a":6.8,"d":2.4},{"a":6.85,"d":2.3},{"a":6.9,"d":2.55},{"a":6.95,"d":2.25},
    {"a":7.0,"d":2.45},{"a":7.05,"d":2.3},{"a":7.1,"d":2.5},{"a":7.15,"d":2.3},{"a":7.2,"d":2.55},{"a":7.25,"d":2.25},{"a":7.3,"d":2.45},{"a":7.35,"d":2.3},{"a":7.4,"d":2.55},{"a":7.45,"d":2.25},{"a":7.5,"d":2.45},{"a":7.55,"d":2.35},{"a":7.6,"d":2.55},{"a":7.65,"d":2.3},{"a":7.7,"d":2.5},{"a":7.75,"d":2.35},{"a":7.8,"d":2.55},{"a":7.85,"d":2.4},{"a":7.9,"d":2.6},{"a":7.95,"d":2.45},
    {"a":8.0,"d":2.55},{"a":8.05,"d":2.45},{"a":8.1,"d":2.8},{"a":8.15,"d":2.35},{"a":8.2,"d":2.5},{"a":8.25,"d":2.25},{"a":8.3,"d":2.45},{"a":8.35,"d":2.3},{"a":8.4,"d":2.55},{"a":8.45,"d":2.2},{"a":8.5,"d":2.45},{"a":8.55,"d":2.3},{"a":8.6,"d":2.7},{"a":8.65,"d":2.35},{"a":8.7,"d":2.2},{"a":8.75,"d":2.45},{"a":8.8,"d":2.2},{"a":8.85,"d":2.4},{"a":8.9,"d":2.15},{"a":8.95,"d":2.35},
    {"a":9.0,"d":2.25},{"a":9.05,"d":2.45},{"a":9.1,"d":2.1},{"a":9.15,"d":2.35},{"a":9.2,"d":2.2},{"a":9.25,"d":2.4},{"a":9.3,"d":2.1},{"a":9.35,"d":2.3},{"a":9.4,"d":2.15},{"a":9.45,"d":2.35},{"a":9.5,"d":2.05},{"a":9.55,"d":2.3},{"a":9.6,"d":2.1},{"a":9.65,"d":2.35},{"a":9.7,"d":2.0},{"a":9.75,"d":2.3},{"a":9.8,"d":2.8},{"a":9.85,"d":2.2},{"a":9.9,"d":2.05},{"a":9.95,"d":2.3},
    {"a":10.0,"d":2.0},{"a":10.05,"d":2.25},{"a":10.1,"d":1.95},{"a":10.15,"d":2.2},{"a":10.2,"d":2.05},{"a":10.25,"d":2.3},{"a":10.3,"d":2.0},{"a":10.35,"d":2.25},{"a":10.4,"d":1.9},{"a":10.45,"d":2.2},{"a":10.5,"d":2.05},{"a":10.55,"d":2.3},{"a":10.6,"d":1.95},{"a":10.65,"d":2.2},{"a":10.7,"d":2.0},{"a":10.75,"d":1.5},{"a":10.8,"d":2.15},{"a":10.85,"d":1.95},{"a":10.9,"d":2.3},{"a":10.95,"d":2.0},
    {"a":11.0,"d":2.2},{"a":11.05,"d":1.9},{"a":11.1,"d":2.15},{"a":11.15,"d":2.0},{"a":11.2,"d":2.3},{"a":11.25,"d":1.95},{"a":11.3,"d":2.2},{"a":11.35,"d":1.9},{"a":11.4,"d":2.15},{"a":11.45,"d":2.0},{"a":11.5,"d":2.35},{"a":11.55,"d":1.95},{"a":11.6,"d":2.2},{"a":11.65,"d":1.85},{"a":11.7,"d":2.1},{"a":11.75,"d":2.0},{"a":11.8,"d":2.3},{"a":11.85,"d":1.9},{"a":11.9,"d":2.15},{"a":11.95,"d":2.0},
    {"a":12.0,"d":2.25},{"a":12.05,"d":1.9},{"a":12.1,"d":2.1},{"a":12.15,"d":2.0},{"a":12.2,"d":2.3},{"a":12.25,"d":1.95},{"a":12.3,"d":2.15},{"a":12.35,"d":2.0},{"a":12.4,"d":2.25},{"a":12.45,"d":1.9},{"a":12.5,"d":2.2},{"a":12.55,"d":2.05},{"a":12.6,"d":2.3},{"a":12.65,"d":1.95},{"a":12.7,"d":2.2},{"a":12.75,"d":2.1},{"a":12.8,"d":2.4},{"a":12.85,"d":2.2},{"a":12.9,"d":2.55},{"a":12.95,"d":2.3},
    {"a":13.0,"d":2.6},{"a":13.05,"d":2.2},{"a":13.1,"d":2.0},{"a":13.15,"d":1.7},{"a":13.2,"d":2.1},{"a":13.25,"d":1.8},{"a":13.3,"d":2.2},{"a":13.35,"d":1.75},{"a":13.4,"d":2.05},{"a":13.45,"d":1.6},{"a":13.5,"d":2.1},{"a":13.55,"d":1.8},{"a":13.6,"d":2.25},{"a":13.65,"d":1.7},{"a":13.7,"d":2.15},{"a":13.75,"d":1.85},{"a":13.8,"d":2.3},{"a":13.85,"d":1.4},{"a":13.9,"d":1.0},{"a":13.95,"d":1.6},
    {"a":14.0,"d":1.1},{"a":14.05,"d":1.5},{"a":14.1,"d":2.0},{"a":14.15,"d":1.2},{"a":14.2,"d":1.7},{"a":14.25,"d":1.0},{"a":14.3,"d":1.5},{"a":14.35,"d":1.1},{"a":14.4,"d":1.9},{"a":14.45,"d":1.2},{"a":14.5,"d":1.6},{"a":14.55,"d":0.9},{"a":14.6,"d":1.5},{"a":14.65,"d":1.0},{"a":14.7,"d":1.6},{"a":14.75,"d":0.8},{"a":14.8,"d":1.4},{"a":14.85,"d":1.0},{"a":14.9,"d":1.7},{"a":14.95,"d":0.9},{"a":15.0,"d":1.3},
    {"a":3.125,"d":2.55},{"a":3.175,"d":2.3},{"a":3.225,"d":2.6},{"a":3.275,"d":2.7},{"a":3.325,"d":2.45},{"a":3.375,"d":2.55},{"a":3.425,"d":2.35},{"a":3.475,"d":2.5},{"a":3.525,"d":2.3},{"a":3.575,"d":2.45},{"a":3.625,"d":2.2},{"a":3.675,"d":2.45},{"a":3.725,"d":2.25},{"a":3.775,"d":2.15},{"a":3.825,"d":2.35},{"a":3.875,"d":2.3},{"a":3.925,"d":2.45},{"a":3.975,"d":2.25},
    {"a":4.025,"d":2.35},{"a":4.075,"d":2.3},{"a":4.125,"d":2.5},{"a":4.175,"d":2.15},{"a":4.225,"d":2.35},{"a":4.275,"d":2.2},{"a":4.325,"d":2.45},{"a":4.375,"d":2.15},{"a":4.425,"d":2.35},{"a":4.475,"d":2.2},{"a":4.525,"d":2.35},{"a":4.575,"d":2.3},{"a":4.625,"d":2.35},{"a":4.675,"d":2.3},{"a":4.725,"d":2.4},{"a":4.775,"d":2.25},{"a":4.825,"d":2.45},{"a":4.875,"d":2.3},{"a":4.925,"d":2.5},{"a":4.975,"d":2.4},
    {"a":5.025,"d":2.3},{"a":5.075,"d":2.35},{"a":5.125,"d":2.3},{"a":5.175,"d":2.25},{"a":5.225,"d":2.15},{"a":5.275,"d":2.3},{"a":5.325,"d":2.05},{"a":5.375,"d":2.25},{"a":5.425,"d":2.2},{"a":5.475,"d":2.25},{"a":5.525,"d":2.1},{"a":5.575,"d":2.35},{"a":5.625,"d":2.25},{"a":5.675,"d":2.3},{"a":5.725,"d":2.1},{"a":5.775,"d":2.4},{"a":5.825,"d":2.45},{"a":5.875,"d":2.2},{"a":5.925,"d":2.35},{"a":5.975,"d":2.35},
    {"a":6.025,"d":2.3},{"a":6.075,"d":2.4},{"a":6.125,"d":2.3},{"a":6.175,"d":2.35},{"a":6.225,"d":2.2},{"a":6.275,"d":2.4},{"a":6.325,"d":2.3},{"a":6.375,"d":2.4},{"a":6.425,"d":2.2},{"a":6.475,"d":2.4},{"a":6.525,"d":2.35},{"a":6.575,"d":2.4},{"a":6.625,"d":2.25},{"a":6.675,"d":2.45},{"a":6.725,"d":2.3},{"a":6.775,"d":2.45},{"a":6.825,"d":2.25},{"a":6.875,"d":2.4},{"a":6.925,"d":2.35},{"a":6.975,"d":2.4},
    {"a":7.025,"d":2.35},{"a":7.075,"d":2.4},{"a":7.125,"d":2.35},{"a":7.175,"d":2.45},{"a":7.225,"d":2.4},{"a":7.275,"d":2.5},{"a":7.325,"d":2.35},{"a":7.375,"d":2.45},{"a":7.425,"d":2.4},{"a":7.475,"d":2.5},{"a":7.525,"d":2.3},{"a":7.575,"d":2.45},{"a":7.625,"d":2.4},{"a":7.675,"d":2.45},{"a":7.725,"d":2.3},{"a":7.775,"d":2.5},{"a":7.825,"d":2.35},{"a":7.875,"d":2.5},{"a":7.925,"d":2.4},{"a":7.975,"d":2.6},
    {"a":8.025,"d":2.4},{"a":8.075,"d":2.6},{"a":8.125,"d":2.55},{"a":8.175,"d":2.45},{"a":8.225,"d":2.35},{"a":8.275,"d":2.4},{"a":8.325,"d":2.35},{"a":8.375,"d":2.45},{"a":8.425,"d":2.35},{"a":8.475,"d":2.3},{"a":8.525,"d":2.4},{"a":8.575,"d":2.45},{"a":8.625,"d":2.4},{"a":8.675,"d":2.3},{"a":8.725,"d":2.4},{"a":8.775,"d":2.3},{"a":8.825,"d":2.35},{"a":8.875,"d":2.3},{"a":8.925,"d":2.3},{"a":8.975,"d":2.2},
    {"a":9.025,"d":2.3},{"a":9.075,"d":2.25},{"a":9.125,"d":2.3},{"a":9.175,"d":2.2},{"a":9.225,"d":2.3},{"a":9.275,"d":2.25},{"a":9.325,"d":2.25},{"a":9.375,"d":2.2},{"a":9.425,"d":2.3},{"a":9.475,"d":2.2},{"a":9.525,"d":2.2},{"a":9.575,"d":2.15},{"a":9.625,"d":2.3},{"a":9.675,"d":2.15},{"a":9.725,"d":2.2},{"a":9.775,"d":2.45},{"a":9.825,"d":2.45},{"a":9.875,"d":2.15},{"a":9.925,"d":2.2},{"a":9.975,"d":2.1},
    {"a":10.025,"d":2.15},{"a":10.075,"d":2.1},{"a":10.125,"d":2.15},{"a":10.175,"d":2.05},{"a":10.225,"d":2.15},{"a":10.275,"d":2.1},{"a":10.325,"d":2.2},{"a":10.375,"d":2.05},{"a":10.425,"d":2.1},{"a":10.475,"d":2.15},{"a":10.525,"d":2.1},{"a":10.575,"d":2.15},{"a":10.625,"d":2.1},{"a":10.675,"d":2.05},{"a":10.725,"d":1.85},{"a":10.775,"d":1.9},{"a":10.825,"d":2.1},{"a":10.875,"d":2.1},{"a":10.925,"d":2.1},{"a":10.975,"d":2.15},
    {"a":11.025,"d":2.05},{"a":11.075,"d":2.05},{"a":11.125,"d":2.1},{"a":11.175,"d":2.15},{"a":11.225,"d":2.1},{"a":11.275,"d":2.1},{"a":11.325,"d":2.0},{"a":11.375,"d":2.1},{"a":11.425,"d":2.05},{"a":11.475,"d":2.15},{"a":11.525,"d":2.1},{"a":11.575,"d":2.05},{"a":11.625,"d":2.0},{"a":11.675,"d":2.05},{"a":11.725,"d":2.1},{"a":11.775,"d":2.15},{"a":11.825,"d":2.05},{"a":11.875,"d":2.05},{"a":11.925,"d":2.1},{"a":11.975,"d":2.1},
    {"a":12.025,"d":2.05},{"a":12.075,"d":2.05},{"a":12.125,"d":2.1},{"a":12.175,"d":2.15},{"a":12.225,"d":2.1},{"a":12.275,"d":2.05},{"a":12.325,"d":2.1},{"a":12.375,"d":2.1},{"a":12.425,"d":2.05},{"a":12.475,"d":2.1},{"a":12.525,"d":2.15},{"a":12.575,"d":2.1},{"a":12.625,"d":2.1},{"a":12.675,"d":2.1},{"a":12.725,"d":2.15},{"a":12.775,"d":2.25},{"a":12.825,"d":2.3},{"a":12.875,"d":2.35},{"a":12.925,"d":2.4},{"a":12.975,"d":2.45},
    {"a":13.025,"d":2.35},{"a":13.075,"d":2.1},{"a":13.125,"d":1.9},{"a":13.175,"d":1.95},{"a":13.225,"d":1.95},{"a":13.275,"d":2.0},{"a":13.325,"d":1.95},{"a":13.375,"d":1.95},{"a":13.425,"d":1.85},{"a":13.475,"d":1.9},{"a":13.525,"d":1.95},{"a":13.575,"d":2.0},{"a":13.625,"d":1.95},{"a":13.675,"d":1.95},{"a":13.725,"d":1.95},{"a":13.775,"d":2.05},{"a":13.825,"d":1.9},
    {"a":13.875,"d":1.2},{"a":13.925,"d":1.35},{"a":13.975,"d":1.3},{"a":14.025,"d":1.35},{"a":14.075,"d":1.7},{"a":14.125,"d":1.55},{"a":14.175,"d":1.45},{"a":14.225,"d":1.35},{"a":14.275,"d":1.3},{"a":14.325,"d":1.3},{"a":14.375,"d":1.45},{"a":14.425,"d":1.5},{"a":14.475,"d":1.4},{"a":14.525,"d":1.25},{"a":14.575,"d":1.2},{"a":14.625,"d":1.25},{"a":14.675,"d":1.3},{"a":14.725,"d":1.2},{"a":14.775,"d":1.1},{"a":14.825,"d":1.2},{"a":14.875,"d":1.35},{"a":14.925,"d":1.3},{"a":14.975,"d":1.1}
  ],
  "sw": [
    {"a":0.04,"w":0.15},{"a":0.08,"w":-0.49},{"a":0.14,"w":-1.06},{"a":0.22,"w":0.61},{"a":0.31,"w":-0.79},{"a":0.36,"w":-0.49},{"a":0.95,"w":0.06},{"a":1.07,"w":0.31},{"a":1.17,"w":-0.44},{"a":1.25,"w":-0.28},{"a":1.35,"w":-0.60},{"a":1.67,"w":0.13},{"a":2.04,"w":-0.08},{"a":2.30,"w":0.02},{"a":2.52,"w":-0.32},{"a":2.77,"w":0.02},{"a":3.07,"w":-0.07},{"a":3.49,"w":0.31},{"a":3.71,"w":0.0},{"a":3.95,"w":-0.13},{"a":4.14,"w":0.15},{"a":4.65,"w":0.13},{"a":4.91,"w":0.47},{"a":5.36,"w":0.47},{"a":5.39,"w":0.27},{"a":5.62,"w":0.86},{"a":6.10,"w":0.85},{"a":6.30,"w":0.62},{"a":6.53,"w":0.57},{"a":6.94,"w":0.33},{"a":7.15,"w":0.37},{"a":7.38,"w":0.86},{"a":8.29,"w":1.0},{"a":9.35,"w":0.52},{"a":10.08,"w":0.70},{"a":11.08,"w":0.22},{"a":12.01,"w":0.62},{"a":12.13,"w":0.43},{"a":12.29,"w":0.68},{"a":12.37,"w":0.68},{"a":12.69,"w":0.49},{"a":12.80,"w":-0.10},{"a":12.98,"w":0.25},{"a":13.10,"w":0.19},{"a":13.51,"w":0.32},{"a":13.66,"w":0.17},{"a":13.90,"w":-0.10},{"a":14.11,"w":-0.71},{"a":14.24,"w":-0.47},{"a":14.44,"w":-0.74},{"a":14.74,"w":-0.28},{"a":14.93,"w":-0.50}
  ],
  "elev": [
    {"a":0.92,"el":2226,"lo":0.80,"hi":1.02,"g":"teal"},{"a":1.10,"el":2226,"lo":null,"hi":null,"g":"teal"},{"a":1.16,"el":2250,"lo":1.08,"hi":1.25,"g":"teal"},{"a":1.34,"el":2267,"lo":1.22,"hi":1.52,"g":"teal"},{"a":2.66,"el":2313,"lo":null,"hi":null,"g":"teal"},
    {"a":0.58,"el":1781,"lo":null,"hi":null,"g":"pink"},{"a":0.67,"el":1804,"lo":null,"hi":null,"g":"pink"},{"a":0.76,"el":1834,"lo":null,"hi":null,"g":"pink"},{"a":2.00,"el":1906,"lo":null,"hi":null,"g":"pink"},{"a":2.17,"el":1918,"lo":1.95,"hi":2.40,"g":"pink"},{"a":2.37,"el":1918,"lo":2.15,"hi":2.62,"g":"pink"},
    {"a":1.19,"el":1840,"lo":null,"hi":null,"g":"purple"},{"a":1.42,"el":1840,"lo":null,"hi":null,"g":"purple"},{"a":1.69,"el":1872,"lo":1.52,"hi":1.86,"g":"purple"},{"a":2.36,"el":1878,"lo":null,"hi":null,"g":"purple"},{"a":2.46,"el":1885,"lo":2.30,"hi":2.60,"g":"purple"},{"a":2.63,"el":1909,"lo":2.50,"hi":2.77,"g":"purple"},{"a":2.87,"el":1925,"lo":2.75,"hi":3.00,"g":"purple"},
    {"a":3.00,"el":1970,"lo":2.90,"hi":3.12,"g":"yellow"},
    {"a":7.75,"el":2610,"lo":7.65,"hi":7.85,"g":"lblue"},{"a":8.02,"el":2622,"lo":null,"hi":null,"g":"lblue"},{"a":8.08,"el":2622,"lo":7.97,"hi":8.12,"g":"lblue"}
  ],
  "cross": [
    {"a":8.74,"el":2400},{"a":9.23,"el":2400},{"a":9.32,"el":2400},{"a":9.87,"el":2400},{"a":10.02,"el":2400},{"a":10.63,"el":2400},{"a":10.72,"el":2400},{"a":11.19,"el":2400},{"a":11.72,"el":2400},{"a":11.87,"el":2400},{"a":12.90,"el":2400}
  ],
  "hist": [
    {"a":0.40,"e":0.65,"n":7},{"a":0.65,"e":0.90,"n":8},{"a":0.90,"e":1.15,"n":16},{"a":1.15,"e":1.40,"n":9},{"a":1.40,"e":1.65,"n":13},{"a":1.65,"e":1.90,"n":7},{"a":1.90,"e":2.15,"n":8},{"a":2.15,"e":2.40,"n":5},{"a":2.40,"e":2.65,"n":7},{"a":2.65,"e":2.90,"n":18},{"a":2.90,"e":3.15,"n":9},
    {"a":3.40,"e":3.65,"n":2},{"a":3.65,"e":3.90,"n":1},{"a":3.90,"e":4.15,"n":2},{"a":4.40,"e":4.65,"n":1},{"a":4.65,"e":4.90,"n":1},{"a":4.90,"e":5.15,"n":1},{"a":5.65,"e":5.90,"n":1},{"a":5.90,"e":6.15,"n":1},{"a":6.15,"e":6.40,"n":1},
    {"a":7.15,"e":7.40,"n":1},{"a":7.40,"e":7.65,"n":3},{"a":7.65,"e":7.90,"n":2},{"a":7.90,"e":8.15,"n":12},{"a":8.15,"e":8.40,"n":3},{"a":8.65,"e":8.90,"n":1},{"a":9.15,"e":9.40,"n":2},{"a":9.90,"e":10.15,"n":2},{"a":10.40,"e":10.65,"n":1},{"a":10.65,"e":10.90,"n":1},{"a":11.15,"e":11.40,"n":1},{"a":11.65,"e":11.90,"n":1},{"a":11.90,"e":12.15,"n":1},{"a":12.90,"e":13.15,"n":1}
  ]
},
"vconcat": [
  {
    "width": 824, "height": 243,
    "encoding": {"x": {"field": "a", "type": "quantitative", "scale": {"domain": [0, 15], "nice": false, "zero": false},
      "axis": {"orient": "top", "values": [0,1,2,3,4,5,6,7,8,9,10,11,12,13,14,15], "labels": false, "title": null, "tickSize": -11, "tickColor": "#444", "domainColor": "#000", "domainWidth": 3}}},
    "layer": [
      {"data": {"name": "bands"}, "mark": {"type": "rect", "fill": "#000", "fillOpacity": 0.06}, "encoding": {"x2": {"field": "e"}}},
      {"data": {"name": "cyanA"}, "mark": {"type": "area", "color": "#8ee2ea", "opacity": 0.42},
        "encoding": {"y": {"field": "lo", "type": "quantitative", "scale": {"domain": [-156, 1500], "nice": false, "zero": false},
          "axis": {"orient": "left", "values": [0, 500, 1000, 1500], "format": "d", "title": "pCO₂ (ppmv)", "titleFontSize": 24, "titleX": -69, "titleY": 108, "titleBaseline": "middle", "titleAngle": -90, "tickSize": 6, "labelPadding": 1, "domainColor": "#000", "domainWidth": 3}},
          "y2": {"field": "hi"}}},
      {"data": {"name": "magA"}, "mark": {"type": "area", "color": "#f7d6f5", "opacity": 1},
        "encoding": {"y": {"field": "lo", "type": "quantitative",
          "axis": {"orient": "right", "values": [0, 500, 1000, 1500], "labels": false, "title": null, "tickSize": -7, "tickColor": "#444", "domainColor": "#000", "domainWidth": 3}},
          "y2": {"field": "hi"}}},
      {"data": {"name": "co2"}, "mark": {"type": "line", "strokeWidth": 1.1},
        "encoding": {"y": {"field": "v", "type": "quantitative", "axis": null},
          "color": {"field": "s", "type": "nominal", "scale": {"domain": ["b", "g"], "range": ["#3b579e", "#3c9a6c"]}, "legend": null}}}
    ],
    "resolve": {"axis": {"y": "independent"}}
  },
  {
    "width": 824, "height": 260,
    "encoding": {"x": {"field": "a", "type": "quantitative", "scale": {"domain": [0, 15], "nice": false, "zero": false}, "axis": null}},
    "layer": [
      {"data": {"name": "bands"}, "mark": {"type": "rect", "fill": "#000", "fillOpacity": 0.06}, "encoding": {"x2": {"field": "e"}}},
      {"data": {"name": "sst"}, "mark": {"type": "line", "strokeWidth": 1},
        "encoding": {"y": {"field": "t", "type": "quantitative", "scale": {"domain": [-2.3, 33.3], "nice": false, "zero": false},
          "axis": {"orient": "left", "values": [0, 10, 20, 30], "title": "SST (°C)", "titleFontSize": 24, "titleX": -73, "titleY": 106, "titleBaseline": "middle", "titleAngle": -90, "tickSize": -8, "labelPadding": 14, "domainColor": "#000", "domainWidth": 3}},
          "color": {"field": "s", "type": "nominal", "scale": {"domain": ["g", "y", "m"], "range": ["#5f9e35", "#d6b42e", "#d957be"]}, "legend": null}}},
      {"data": {"name": "bwt"}, "mark": {"type": "line", "strokeWidth": 1.1, "color": "#2db4f0"},
        "encoding": {"y": {"field": "b", "type": "quantitative", "scale": {"domain": [-5.2, 13.6], "nice": false, "zero": false},
          "axis": {"orient": "right", "values": [-4, -2, 0, 2, 4, 6, 8, 10, 12], "labelExpr": "datum.value >= -2 && datum.value <= 10 ? '' + datum.value : ''", "title": "BWT (°C)", "titleFontSize": 18, "titleColor": "#33b5ef", "labelColor": "#33b5ef", "labelFontSize": 17, "tickColor": "#33b5ef", "titleX": 48, "titleY": 120, "titleBaseline": "middle", "titleAngle": 90, "tickSize": -8, "labelPadding": 23, "domainColor": "#000", "domainWidth": 3}}}}
    ],
    "resolve": {"scale": {"y": "independent"}}
  },
  {
    "width": 824, "height": 267,
    "encoding": {"x": {"field": "a", "type": "quantitative", "scale": {"domain": [0, 15], "nice": false, "zero": false}, "axis": null}},
    "layer": [
      {"data": {"name": "bands"}, "mark": {"type": "rect", "fill": "#000", "fillOpacity": 0.06}, "encoding": {"x2": {"field": "e"}}},
      {"data": {"name": "d18o"}, "mark": {"type": "line", "strokeWidth": 1, "color": "#000"},
        "encoding": {"y": {"field": "d", "type": "quantitative", "scale": {"domain": [-0.43, 5.64], "nice": false, "zero": false, "reverse": true},
          "axis": {"orient": "left", "values": [0, 1, 2, 3, 4, 5], "title": "Benthic δ¹⁸O (‰)", "titleFontSize": 24, "titleX": -71, "titleY": 119, "titleBaseline": "middle", "titleAngle": -90, "tickSize": -8, "labelPadding": 14, "domainColor": "#000", "domainWidth": 3}}}},
      {"data": {"name": "sw"}, "mark": {"type": "line", "strokeWidth": 1.1, "color": "#2db4f0"},
        "encoding": {"y": {"field": "w", "type": "quantitative", "scale": {"domain": [-1.73, 1.93], "nice": false, "zero": false, "reverse": true},
          "axis": {"orient": "right", "values": [-1.5, -1, -0.5, 0, 0.5, 1, 1.5], "labelExpr": "datum.value == -1 ? '-1.0' : datum.value == -0.5 ? '-0.5' : datum.value == 0 ? '0.0' : datum.value == 0.5 ? '0.5' : datum.value == 1 ? '1.5' : ''", "title": "δ18Osw (‰)", "titleFontSize": 18, "titleColor": "#33b5ef", "labelColor": "#33b5ef", "labelFontSize": 17, "tickColor": "#33b5ef", "titleX": 51, "titleY": 111, "titleBaseline": "middle", "titleAngle": 90, "tickSize": -8, "labelPadding": 16, "domainColor": "#000", "domainWidth": 3}}}}
    ],
    "resolve": {"scale": {"y": "independent"}}
  },
  {
    "width": 824, "height": 252,
    "encoding": {"x": {"field": "a", "type": "quantitative", "scale": {"domain": [0, 15], "nice": false, "zero": false}, "axis": null}},
    "layer": [
      {"data": {"name": "bands"}, "mark": {"type": "rect", "fill": "#000", "fillOpacity": 0.06}, "encoding": {"x2": {"field": "e"}}},
      {"data": {"name": "elev"}, "transform": [{"filter": "datum.lo != null"}],
        "mark": {"type": "errorbar", "ticks": {"size": 8, "color": "#555"}, "rule": {"color": "#555", "strokeWidth": 1}},
        "encoding": {"x": {"field": "lo", "type": "quantitative", "axis": null}, "x2": {"field": "hi"},
          "y": {"field": "el", "type": "quantitative", "axis": null}}},
      {"data": {"name": "cross"}, "mark": {"type": "point", "shape": "M-1,0H1M0,-1V1", "filled": false, "stroke": "#666", "strokeWidth": 1.6, "size": 150, "opacity": 1},
        "encoding": {"y": {"field": "el", "type": "quantitative",
          "axis": {"orient": "right", "values": [1500, 2000, 2500, 3000], "labels": false, "title": null, "tickSize": -7, "tickColor": "#444", "domainColor": "#000", "domainWidth": 3}}}},
      {"data": {"name": "elev"}, "mark": {"type": "point", "shape": "circle", "filled": true, "size": 180, "stroke": "#111", "strokeWidth": 1, "opacity": 1},
        "encoding": {"y": {"field": "el", "type": "quantitative", "scale": {"domain": [1397, 3123], "nice": false, "zero": false},
          "axis": {"orient": "left", "values": [1500, 2000, 2500, 3000], "format": "d", "title": ["Apparent minimum", "ice surface elevation (m)"], "titleFontSize": 19, "titleLineHeight": 24, "titleX": -91, "titleY": 132, "titleBaseline": "middle", "titleAngle": -90, "tickSize": 6, "labelPadding": 1, "domainColor": "#000", "domainWidth": 3}},
          "fill": {"field": "g", "type": "nominal", "scale": {"domain": ["teal", "pink", "purple", "yellow", "lblue"], "range": ["#27a096", "#ee98dc", "#8b4fd4", "#ffd400", "#8ec4dd"]}, "legend": null}}}
    ],
    "resolve": {"axis": {"y": "independent"}}
  },
  {
    "width": 824, "height": 141,
    "encoding": {"x": {"field": "a", "type": "quantitative", "scale": {"domain": [0, 15], "nice": false, "zero": false},
      "axis": {"orient": "bottom", "values": [0,1,2,3,4,5,6,7,8,9,10,11,12,13,14,15], "title": "Age (Ma)", "titleFontSize": 24, "titleY": 53, "titleBaseline": "middle", "labelFontSize": 17, "tickSize": -12, "tickColor": "#999", "labelPadding": 31, "domainColor": "#000", "domainWidth": 3.5}}},
    "layer": [
      {"data": {"name": "bands"}, "mark": {"type": "rect", "fill": "#000", "fillOpacity": 0.06}, "encoding": {"x2": {"field": "e"}}},
      {"data": {"name": "hist"}, "mark": {"type": "rect", "fill": "#555", "stroke": "#1a1a1a", "strokeWidth": 1},
        "encoding": {"x2": {"field": "e"},
          "y": {"field": "n", "type": "quantitative", "scale": {"domain": [0, 20.3], "nice": false, "zero": false},
            "axis": {"orient": "left", "values": [0,2,4,6,8,10,12,14,16,18], "labelExpr": "datum.value % 4 == 0 ? datum.label : ''", "labelFontSize": 14, "title": "Frequency", "titleFontSize": 20, "titleX": -73, "titleY": 78, "titleBaseline": "middle", "titleAngle": -90, "tickSize": -10, "labelPadding": 23, "domainColor": "#000", "domainWidth": 3}},
          "y2": {"datum": 0}}},
      {"data": {"name": "hist"}, "mark": {"type": "rect", "opacity": 0},
        "encoding": {"x2": {"field": "e"},
          "y": {"field": "n", "type": "quantitative",
            "axis": {"orient": "right", "values": [0,2,4,6,8,10,12,14,16,18], "labels": false, "title": null, "tickSize": -9, "tickColor": "#444", "domainColor": "#000", "domainWidth": 3}},
          "y2": {"datum": 0}}}
    ],
    "resolve": {"axis": {"y": "independent"}}
  }
]
}
